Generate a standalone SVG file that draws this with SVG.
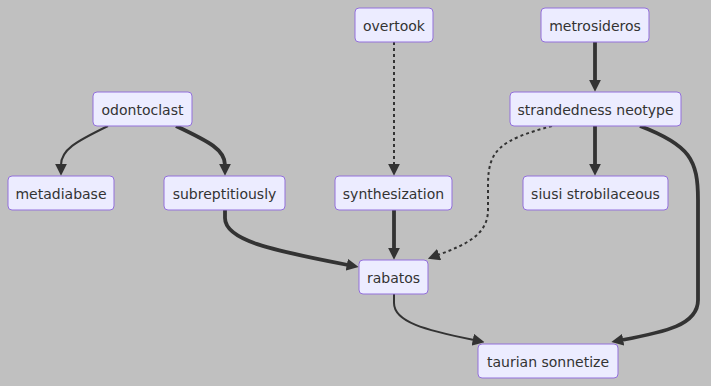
<svg xmlns="http://www.w3.org/2000/svg" width="711" height="386" viewBox="0 0 711 386">
  <style>
    .node rect { fill: #ececff; stroke: #9370db; stroke-width: 1; }
    .node text { font-family: "DejaVu Sans", Verdana, sans-serif; font-size: 14px; fill: #333; text-anchor: middle; }
    .edge { fill: none; stroke: #333; }
    .thin { stroke-width: 2; }
    .thick { stroke-width: 3.8; }
    .dotted { stroke-width: 2; stroke-dasharray: 3 3; }
  </style>
  <defs>
    <marker id="arrow" viewBox="0 0 10 10" refX="1" refY="5" markerUnits="userSpaceOnUse" markerWidth="12" markerHeight="12" orient="auto">
      <path d="M0,0 L10,5 L0,10 z" fill="#333"/>
    </marker>
  </defs>
  <rect x="0" y="0" width="711" height="386" fill="#c0c0c0"/>

  <g id="connectors">
    <path class="edge thin" d="M108,126 C75,142 61,150 61,165" marker-end="url(#arrow)"/>
    <path class="edge thick" d="M176,126 C210,142 225,150 225,165" marker-end="url(#arrow)"/>
    <path class="edge thick" d="M225,210 L225,218 C225,240 270,250 348,265" marker-end="url(#arrow)"/>
    <path class="edge dotted" d="M394,42 L394,165" marker-end="url(#arrow)"/>
    <path class="edge thick" d="M394,210 L394,249" marker-end="url(#arrow)"/>
    <path class="edge thick" d="M595,42 L595,81" marker-end="url(#arrow)"/>
    <path class="edge thick" d="M595,126 L595,165" marker-end="url(#arrow)"/>
    <path class="edge dotted" d="M552,126 C500,140 488,150 488,185 L488,210 C488,235 465,245 438,255" marker-end="url(#arrow)"/>
    <path class="edge thick" d="M640,126 C690,145 698,160 698,200 L698,300 C698,325 665,332 622,340" marker-end="url(#arrow)"/>
    <path class="edge thin" d="M394,294 L394,303 C394,322 425,330 474,340" marker-end="url(#arrow)"/>
  </g>

  <g id="overtook" class="node"><rect x="355" y="8" width="78" height="34" rx="4"/><text x="394" y="30.5">overtook</text></g>
  <g id="metrosideros" class="node"><rect x="541" y="8" width="108" height="34" rx="4"/><text x="595" y="30.5">metrosideros</text></g>
  <g id="odontoclast" class="node"><rect x="93" y="92" width="99" height="34" rx="4"/><text x="142.5" y="114.5">odontoclast</text></g>
  <g id="strandedness_neotype" class="node"><rect x="510" y="92" width="171" height="34" rx="4"/><text x="595.5" y="114.5">strandedness neotype</text></g>
  <g id="metadiabase" class="node"><rect x="8" y="176" width="106" height="34" rx="4"/><text x="61" y="198.5">metadiabase</text></g>
  <g id="subreptitiously" class="node"><rect x="164" y="176" width="121" height="34" rx="4"/><text x="224.5" y="198.5">subreptitiously</text></g>
  <g id="synthesization" class="node"><rect x="335" y="176" width="117" height="34" rx="4"/><text x="393.5" y="198.5">synthesization</text></g>
  <g id="siusi_strobilaceous" class="node"><rect x="523" y="176" width="145" height="34" rx="4"/><text x="595.5" y="198.5">siusi strobilaceous</text></g>
  <g id="rabatos" class="node"><rect x="359" y="260" width="69" height="34" rx="4"/><text x="393.5" y="282.5">rabatos</text></g>
  <g id="taurian_sonnetize" class="node"><rect x="478" y="344" width="140" height="34" rx="4"/><text x="548" y="366.5">taurian sonnetize</text></g>
</svg>
